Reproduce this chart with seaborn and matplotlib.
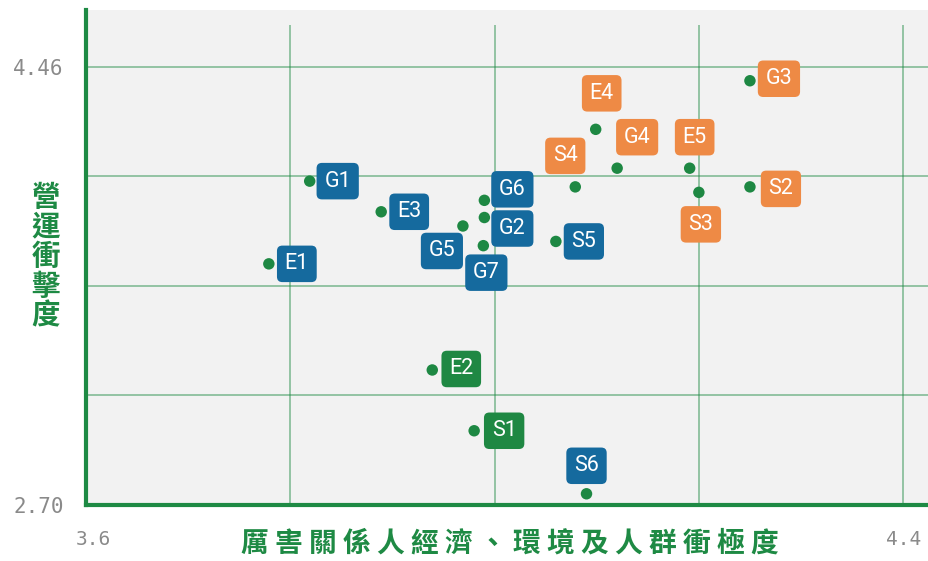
import numpy as np
import pandas as pd
import matplotlib
matplotlib.use('Agg')
import matplotlib.pyplot as plt
import matplotlib.transforms as mtransforms
import seaborn as sns

# data
names = ['E1', 'G1', 'E3', 'G6', 'G2', 'G5', 'G7', 'S5', 'G3',
         'E4', 'G4', 'S4', 'E5', 'S3', 'S2', 'E2', 'S1', 'S6']
stakeholder = [3.779, 3.819, 3.889, 3.990, 3.990, 3.969, 3.989, 4.060, 4.250,
               4.099, 4.120, 4.079, 4.191, 4.200, 4.250, 3.939, 3.980, 4.090]
operation = [3.668, 4.000, 3.877, 3.923, 3.854, 3.820, 3.741, 3.758, 4.403,
             4.208, 4.052, 3.977, 4.052, 3.955, 3.977, 3.242, 2.998, 2.745]
level = ['mid', 'mid', 'mid', 'mid', 'mid', 'mid', 'mid', 'mid', 'high',
         'high', 'high', 'high', 'high', 'high', 'high', 'low', 'low', 'mid']

x_ticks = [3.6, 4.4]
x_tick_labels = ['3.6', '4.4']
y_ticks = [2.70, 4.46]
y_tick_labels = ['2.70', '4.46']
x_grid = [3.8, 4.0, 4.2, 4.4]
y_grid = [3.14, 3.58, 4.02, 4.46]

x_title = '厲 害 關 係 人 經 濟 、 環 境 及 人 群 衝 極 度'
y_title = '營\n運\n衝\n擊\n度'

# label placement (pixels from the dot, right / down)
label_offsets = [(28, 0), (28, 0), (28, 0), (28, -11), (28, 11), (-21, 25), (3, 27), (28, 0), (29, -2),
                 (6, -36), (20, -31), (-10, -31), (5, -31), (2, 32), (31, 2), (29, -1), (30, 0), (0, -28)]

level_colors = {'mid': '#156a9e', 'high': '#ee8a45', 'low': '#1f8843'}
dot_color = '#1e8843'
green = '#1e8a44'

df = pd.DataFrame({'name': names, 'x': stakeholder, 'y': operation, 'level': level})

sns.set_theme(style='white')
plt.rcParams['font.family'] = ['Noto Sans CJK TC', 'DejaVu Sans']

fig = plt.figure(figsize=(9.29, 5.61), dpi=100)
ax = fig.add_axes([86 / 929, 56 / 561, 843 / 929, 495.5 / 561])
ax.set_facecolor('#f2f2f2')

# grid
for gy in y_grid:
    ax.axhline(gy, color=green, alpha=0.45, lw=1.4, zorder=0)
ax.vlines(x_grid, 2.70, 4.625, color=green, alpha=0.45, lw=1.4, zorder=0)

sns.scatterplot(data=df, x='x', y='y', ax=ax, color=dot_color, s=68,
                edgecolor='none', zorder=3, legend=False)

for i, row in df.iterrows():
    dx, dy = label_offsets[i]
    ax.annotate(row['name'], (row['x'], row['y']), xytext=(dx, -dy),
                textcoords='offset pixels', ha='center', va='center',
                color='white', fontsize=15.5, family='Roboto', zorder=4,
                bbox=dict(boxstyle='round,pad=0.36,rounding_size=0.25',
                          fc=level_colors[row['level']], ec='none'))

ax.set_xlim(3.6, 4.4253)
ax.set_ylim(2.70, 4.689)

for s in ['top', 'right']:
    ax.spines[s].set_visible(False)
for s in ['left', 'bottom']:
    ax.spines[s].set_color(green)
    ax.spines[s].set_linewidth(3)

ax.set_xticks(x_ticks)
ax.set_xticklabels(x_tick_labels, family='DejaVu Sans Mono', fontsize=14, color='#8a8a8a')
ax.set_yticks(y_ticks)
ax.set_yticklabels(y_tick_labels, family='DejaVu Sans Mono', fontsize=15, color='#8a8a8a')
ax.tick_params(axis='x', length=0, pad=18)
ax.tick_params(axis='y', length=0, pad=16)
ax.set_xlabel('')
ax.set_ylabel('')
# nudge the first x tick label to the right like the original
first = ax.get_xticklabels()[0]
first.set_transform(first.get_transform() + mtransforms.ScaledTranslation(7 / 100, 0, fig.dpi_scale_trans))

fig.text(510 / 929, 1 - 544 / 561, x_title, ha='center', va='center',
         fontsize=20, fontweight='bold', color=green)
fig.text(46 / 929, 1 - 257 / 561, y_title, ha='center', va='center',
         fontsize=20.5, fontweight='bold', color=green, linespacing=1.07)

fig.savefig('out.png', dpi=100)
